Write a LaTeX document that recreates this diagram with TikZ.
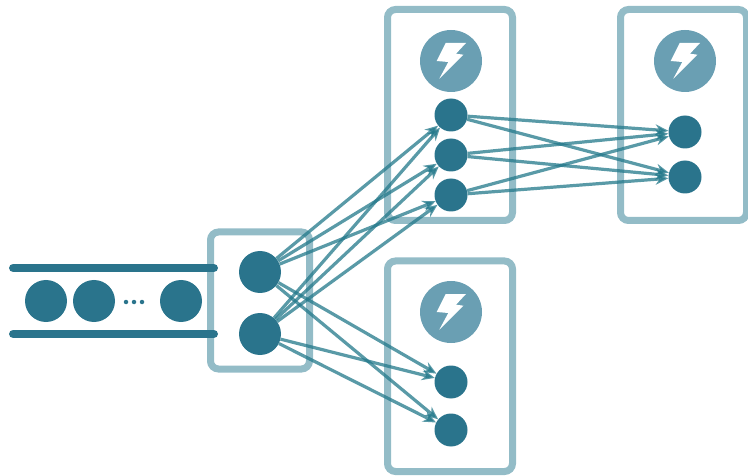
\documentclass[tikz,border=0pt]{standalone}
\usetikzlibrary{arrows.meta}
\definecolor{tealdark}{HTML}{2A748C}
\definecolor{tealflow}{HTML}{22788A}
\definecolor{tealbox}{HTML}{93BCC7}
\definecolor{tealicon}{HTML}{6A9FB3}
\begin{document}
\begin{tikzpicture}[x=1pt, y=-1pt, >={Stealth[length=13pt,width=11pt]},
        box/.style={draw=tealbox, line width=7pt, rounded corners=8pt, inner sep=0pt},
        token/.style={circle, fill=tealdark, inner sep=0pt, minimum size=42pt},
        item/.style={circle, fill=tealdark, inner sep=0pt, minimum size=33pt},
        icon/.style={circle, fill=tealicon, inner sep=0pt, minimum size=62pt},
        dot/.style={circle, fill=tealdark, inner sep=0pt, minimum size=4.5pt},
        bar/.style={draw=tealdark, line width=8.5pt, line cap=round},
        flow/.style={->, draw=tealflow, line width=3.2pt, draw opacity=0.75, fill opacity=0.75},
        bolt/.pic={\fill[white] (-5.3,-18) -- (15,-18) -- (5,-7.3) -- (12.3,-6.3) -- (-11.7,17.7) -- (-2.7,1) -- (-14.3,0) -- cycle;}]
            \useasboundingbox (0,0) rectangle (748,476);
            \node[box, minimum width=99pt, minimum height=137pt] (source) at (260,300.5) {};
            \node[box, minimum width=125pt, minimum height=211pt] (broker1) at (450,115) {};
            \node[box, minimum width=125pt, minimum height=210.5pt] (broker2) at (450,366.25) {};
            \node[box, minimum width=126pt, minimum height=211pt] (broker3) at (683.5,115) {};
            \coordinate (top1) at (13.25,268);
            \coordinate (top2) at (213.75,268);
            \coordinate (bottom1) at (13.25,334);
            \coordinate (bottom2) at (213.75,334);
            \draw[bar] (top1) -- (top2);
            \draw[bar] (bottom1) -- (bottom2);
            \node[token] (token1) at (46,301) {};
            \node[token] (token2) at (94,301) {};
            \node[token] (token3) at (181,301) {};
            \node[dot] (dot1) at (126,302) {};
            \node[dot] (dot2) at (134,302) {};
            \node[dot] (dot3) at (142,302) {};
            \node[icon] (icon1) at (451,61) {};
            \node[icon] (icon2) at (451,312) {};
            \node[icon] (icon3) at (685,61) {};
            \pic at (icon1) {bolt};
            \pic at (icon2) {bolt};
            \pic at (icon3) {bolt};
            \node[token] (src1) at (260,272) {};
            \node[token] (src2) at (260,334) {};
            \node[item] (mid1) at (451,115) {};
            \node[item] (mid2) at (451,155) {};
            \node[item] (mid3) at (451,195) {};
            \node[item] (low1) at (451,382) {};
            \node[item] (low2) at (451,430) {};
            \node[item] (right1) at (685,132) {};
            \node[item] (right2) at (685,177) {};
            \draw[flow] (src1) -- (mid1);
            \draw[flow] (src1) -- (mid2);
            \draw[flow] (src1) -- (mid3);
            \draw[flow] (src2) -- (mid1);
            \draw[flow] (src2) -- (mid2);
            \draw[flow] (src2) -- (mid3);
            \draw[flow] (src1) -- (low1);
            \draw[flow] (src1) -- (low2);
            \draw[flow] (src2) -- (low1);
            \draw[flow] (src2) -- (low2);
            \draw[flow] (mid1) -- (right1);
            \draw[flow] (mid1) -- (right2);
            \draw[flow] (mid2) -- (right1);
            \draw[flow] (mid2) -- (right2);
            \draw[flow] (mid3) -- (right1);
            \draw[flow] (mid3) -- (right2);
        \end{tikzpicture}
\end{document}
